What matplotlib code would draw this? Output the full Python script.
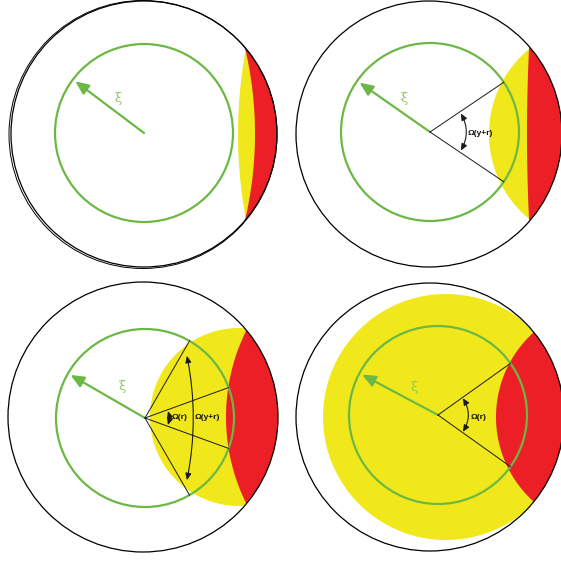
import numpy as np
import matplotlib
matplotlib.use("Agg")
import matplotlib.pyplot as plt
from matplotlib.patches import Circle, Polygon, FancyArrowPatch

# ---- data (pixel coordinates of the diagram, y downward) ----
outer_cx = [144, 429, 143, 430]
outer_cy = [134, 134, 417, 417]
outer_r = [133, 133, 135, 134]

green_cx = [144, 430, 145, 438]
green_cy = [133, 132, 418, 415]
green_r = [89, 89, 89, 89]
arrow_angle = [143, 145, 150, 152]      # degrees, counter-clockwise on screen

xi_x = [118, 404, 122, 414]
xi_y = [98, 98, 386, 387]

yellow_cx = [700, 599, 239, 446]
yellow_cy = [134, 134, 417, 417]
yellow_r = [462, 110, 89, 123]

red_cx = [-121, 2334, 421, 610]
red_cy = [134, 134, 417, 417]
red_r = [376, 1807, 195, 114]
red_inside = [False, True, True, True]

line_panel = [1, 1, 2, 2, 2, 2, 3, 3]
line_angle = [34, -34, 60, -60, 20, -20, 35.5, -35.5]

arc_panel = [1, 2, 2, 3]
arc_r = [36, 24, 75, 30]
arc_half = [31, 17, 56, 34]
arc_rad = [None, None, 0.1, None]

label_panel = [1, 2, 2, 3]
label_text = ["Ω(y+r)", "Ω(r)", "Ω(y+r)", "Ω(r)"]
label_x = [468, 172, 195, 471]
label_y = [133, 417, 417, 417]

GREEN = "#6cb844"
XI_GREEN = "#8cc864"
YELLOW = "#f1e81b"
RED = "#ec1f26"


def region(c0, r0, c1, r1, inside, n=300):
    """Polygon of disk(c0,r0) intersected with disk(c1,r1) (inside) or its complement."""
    c0 = np.array(c0, float); c1 = np.array(c1, float)
    d = np.linalg.norm(c1 - c0)
    a = (d**2 + r0**2 - r1**2) / (2 * d)
    h = np.sqrt(max(r0**2 - a**2, 0))
    u = (c1 - c0) / d
    v = np.array([-u[1], u[0]])
    P = c0 + a * u + h * v
    Q = c0 + a * u - h * v

    def ang(c, p):
        return np.arctan2(p[1] - c[1], p[0] - c[0])

    def in1(p):
        return (np.linalg.norm(p - c1) < r1) == inside

    def in0(p):
        return np.linalg.norm(p - c0) < r0

    aP, aQ = ang(c0, P), ang(c0, Q)
    aQ2 = aQ if aQ > aP else aQ + 2 * np.pi
    mid = c0 + r0 * np.array([np.cos((aP + aQ2) / 2), np.sin((aP + aQ2) / 2)])
    if not in1(mid):
        aQ2 -= 2 * np.pi
    t = np.linspace(aP, aQ2, n)
    arc0 = np.column_stack([c0[0] + r0 * np.cos(t), c0[1] + r0 * np.sin(t)])
    bQ, bP = ang(c1, Q), ang(c1, P)
    bP2 = bP if bP > bQ else bP + 2 * np.pi
    mid = c1 + r1 * np.array([np.cos((bQ + bP2) / 2), np.sin((bQ + bP2) / 2)])
    if not in0(mid):
        bP2 -= 2 * np.pi
    t = np.linspace(bQ, bP2, n)
    arc1 = np.column_stack([c1[0] + r1 * np.cos(t), c1[1] + r1 * np.sin(t)])
    return np.vstack([arc0, arc1])


fig = plt.figure(figsize=(5.61, 5.61), dpi=100)
ax = fig.add_axes([0, 0, 1, 1])
ax.set_xlim(0, 561)
ax.set_ylim(561, 0)
ax.set_aspect("equal")
ax.axis("off")

for i in range(4):
    oc = (outer_cx[i], outer_cy[i])
    ax.add_patch(Polygon(region(oc, outer_r[i], (yellow_cx[i], yellow_cy[i]), yellow_r[i], True),
                         closed=True, facecolor=YELLOW, edgecolor="none", zorder=1))
    ax.add_patch(Polygon(region(oc, outer_r[i], (red_cx[i], red_cy[i]), red_r[i], red_inside[i]),
                         closed=True, facecolor=RED, edgecolor="none", zorder=2))
    ax.add_patch(Circle(oc, outer_r[i], fill=False, edgecolor="black", lw=0.9, zorder=5))
    if i == 0:
        ax.add_patch(Circle((oc[0] - 1, oc[1] + 0.5), outer_r[i] + 1, fill=False,
                            edgecolor="black", lw=0.7, zorder=5))
    gc = (green_cx[i], green_cy[i])
    ax.add_patch(Circle(gc, green_r[i], fill=False, edgecolor=GREEN, lw=1.6, zorder=4))
    th = np.deg2rad(arrow_angle[i])
    tip = (gc[0] + (green_r[i] - 3) * np.cos(th), gc[1] - (green_r[i] - 3) * np.sin(th))
    ax.add_patch(FancyArrowPatch(gc, tip, arrowstyle="-|>,head_length=0.8,head_width=0.35",
                                 mutation_scale=10, color=GREEN, lw=1.6,
                                 shrinkA=0, shrinkB=0, zorder=6))
    ax.text(xi_x[i], xi_y[i], "ξ", color=XI_GREEN, fontsize=9.5,
            family="DejaVu Serif", ha="center", va="center", zorder=7)

for p, a in zip(line_panel, line_angle):
    gc = (green_cx[p], green_cy[p])
    th = np.deg2rad(a)
    ax.plot([gc[0], gc[0] + green_r[p] * np.cos(th)],
            [gc[1], gc[1] - green_r[p] * np.sin(th)],
            color="#1a1a1a", lw=0.7, zorder=6)

for p, r, hlf, rd in zip(arc_panel, arc_r, arc_half, arc_rad):
    gc = (green_cx[p], green_cy[p])
    th = np.deg2rad(hlf)
    start = (gc[0] + r * np.cos(th), gc[1] + r * np.sin(th))
    end = (gc[0] + r * np.cos(th), gc[1] - r * np.sin(th))
    rad = np.tan(th / 2) if rd is None else rd
    ax.add_patch(FancyArrowPatch(start, end, connectionstyle=f"arc3,rad={rad}",
                                 arrowstyle="<|-|>,head_length=0.5,head_width=0.22",
                                 mutation_scale=8, color="#1a1a1a", lw=0.8,
                                 shrinkA=0, shrinkB=0, zorder=6))

for p, s, x, y in zip(label_panel, label_text, label_x, label_y):
    ax.text(x, y, s, fontsize=6, family="Liberation Sans", weight="bold",
            ha="left", va="center", color="#111111", zorder=7)

fig.savefig("out.png", dpi=100)
